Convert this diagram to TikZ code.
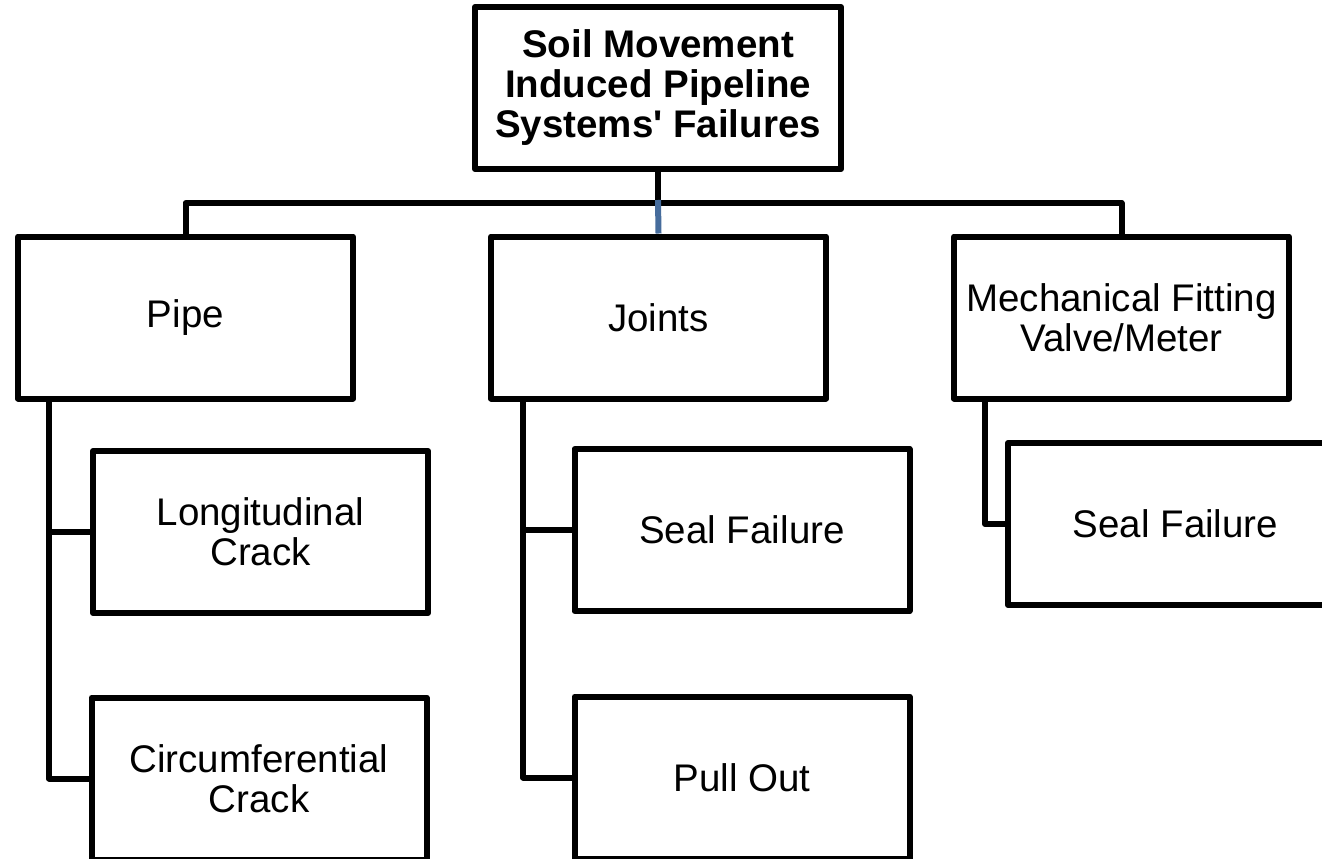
\documentclass[tikz,border=0pt]{standalone}
\usepackage{fontspec}
\setmainfont{Liberation Sans}[Ligatures=TeXOff]
\usetikzlibrary{positioning}
\definecolor{linkblue}{RGB}{70,108,156}
\tikzset{
  box/.style={draw=black, line width=6pt, line join=round, fill=white,
    minimum width=335pt, minimum height=162pt, inner sep=0pt,
    align=center, font=\fontsize{38.5}{40}\selectfont},
  link/.style={draw=black, line width=6pt, line join=round, line cap=rect}
}
\begin{document}
\begin{tikzpicture}[x=1pt,y=-1pt]
\clip (0,0) rectangle (1322,859);
\fill[white] (0,0) rectangle (1322,859);

% top level
\node[box, minimum width=366pt, font=\bfseries\fontsize{38.5}{40}\selectfont] (root) at (658,88)
  {Soil Movement\\Induced Pipeline\\Systems' Failures};

% second level
\node[box] (pipe)   at (185.5,317.5) {Pipe};
\node[box] (joints) at (658.5,317.5) {Joints};
\node[box] (mech)   at (1121.5,317.5) {Mechanical Fitting\\Valve/Meter};

% third level
\node[box] (long)  at (260.5,532)   {Longitudinal\\Crack};
\node[box] (circ)  at (259,778.5)   {Circumferential\\Crack};
\node[box] (sealj) at (742,530)     {Seal Failure};
\node[box] (pull)  at (742,777.5)   {Pull Out};
\node[box] (sealm) at (1175.5,524)  {Seal Failure};

% bus below the root
\coordinate (bus) at ([yshift=-31pt]root.south);
\draw[link] (root.south) -- (bus);
\draw[link] (pipe.north) |- (bus) -| (mech.north);
\draw[linkblue, line width=6pt] ([yshift=3pt]bus) -- (joints.north);

% branches to the failure modes
\draw[link] ([xshift=34pt]pipe.south west) |- (long.west);
\draw[link] ([xshift=34pt]pipe.south west) |- (circ.west);
\draw[link] ([xshift=35pt]joints.south west) |- (sealj.west);
\draw[link] ([xshift=35pt]joints.south west) |- (pull.west);
\draw[link] ([xshift=34pt]mech.south west) |- (sealm.west);
\end{tikzpicture}
\end{document}
